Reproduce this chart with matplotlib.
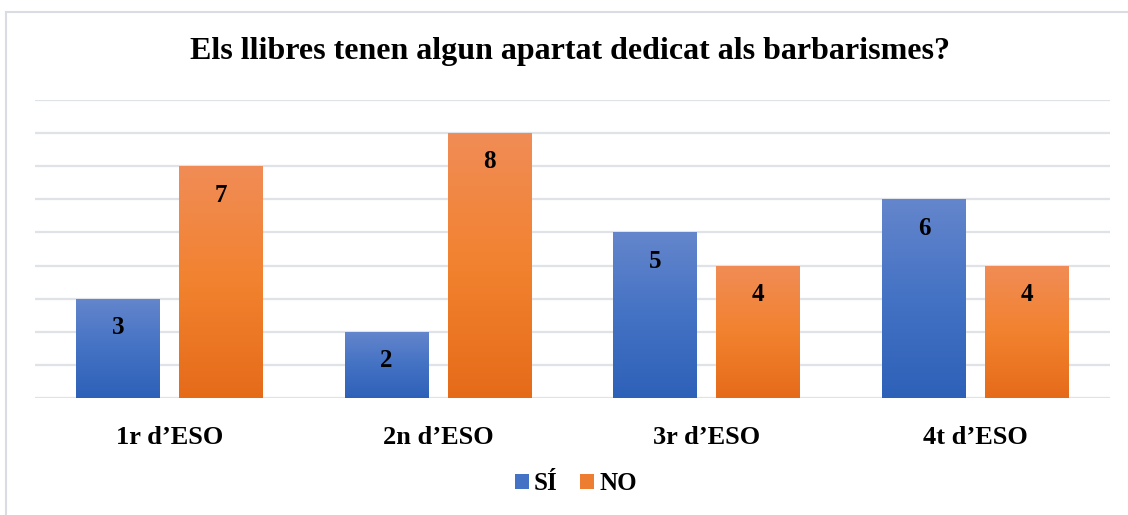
import numpy as np
import matplotlib
matplotlib.use('Agg')
import matplotlib.pyplot as plt
from matplotlib.patches import Rectangle, Patch
from matplotlib.colors import LinearSegmentedColormap
from matplotlib.lines import Line2D

categories = ['1r d\u2019ESO', '2n d\u2019ESO', '3r d\u2019ESO', '4t d\u2019ESO']
si_vals = [3, 2, 5, 6]
no_vals = [7, 8, 4, 4]
series_names = ['S\u00cd', 'NO']
title = 'Els llibres tenen algun apartat dedicat als barbarismes?'

plt.rcParams['font.family'] = ['Liberation Serif', 'DejaVu Serif']

W, H = 1128, 515
fig = plt.figure(figsize=(W / 100, H / 100), dpi=100)
ax = fig.add_axes([35 / W, 1 - 398 / H, (1110 - 35) / W, (398 - 100) / H])

# gradient maps (bottom -> top)
blue_cm = LinearSegmentedColormap.from_list('b', ['#2d61b8', '#4472c4', '#6486cc'])
orng_cm = LinearSegmentedColormap.from_list('o', ['#e56b19', '#f2822f', '#f08c56'])

bw = 0.3125
off = bw / 2 + 0.035
x = np.arange(len(categories))
grad = np.linspace(0, 1, 256).reshape(-1, 1)

ax.set_yticks(range(0, 10))
ax.grid(axis='y', color='#dfe2e7', lw=1.6, zorder=0)
ax.set_axisbelow(True)

def gbar(xc, v, cm):
    x0 = xc - bw / 2
    r = Rectangle((x0, 0), bw, v, fc='none', ec='none')
    ax.add_patch(r)
    im = ax.imshow(grad, cmap=cm, extent=[x0, x0 + bw, 0, v], origin='lower',
                   aspect='auto', zorder=2, interpolation='bilinear')
    im.set_clip_path(r)
    ax.text(xc, v - 0.87, str(v), ha='center', va='center', fontsize=18,
            fontweight='bold', color='black', zorder=3)

for i in x:
    gbar(i - off, si_vals[i], blue_cm)
    gbar(i + off, no_vals[i], orng_cm)

ax.set_xlim(-0.5, len(categories) - 0.5)
ax.set_ylim(0, 9)
ax.set_xticks(x)
ax.set_xticklabels(categories, fontsize=19, fontweight='bold')
ax.tick_params(axis='x', length=0, pad=20)
ax.tick_params(axis='y', length=0, labelleft=False)
for s in ax.spines.values():
    s.set_visible(False)

fig.text(570 / W, 1 - 52 / H, title, ha='center', va='center', fontsize=23,
         fontweight='bold')

handles = [Patch(fc='#4472c4', ec='none'), Patch(fc='#ed7d31', ec='none')]
fig.legend(handles, series_names, loc='center', bbox_to_anchor=(576 / W, 1 - 484 / H),
           ncol=2, frameon=False, prop={'size': 18, 'weight': 'bold'},
           handlelength=0.55, handleheight=0.55, handletextpad=0.2, columnspacing=0.9)

# outer frame
fig.add_artist(Line2D([6 / W, 6 / W], [0, 1 - 12 / H], transform=fig.transFigure,
                      color='#d9dde3', lw=1.5))
fig.add_artist(Line2D([6 / W, 1], [1 - 12 / H, 1 - 12 / H], transform=fig.transFigure,
                      color='#d9dde3', lw=1.5))

fig.savefig('out.png', dpi=100)
